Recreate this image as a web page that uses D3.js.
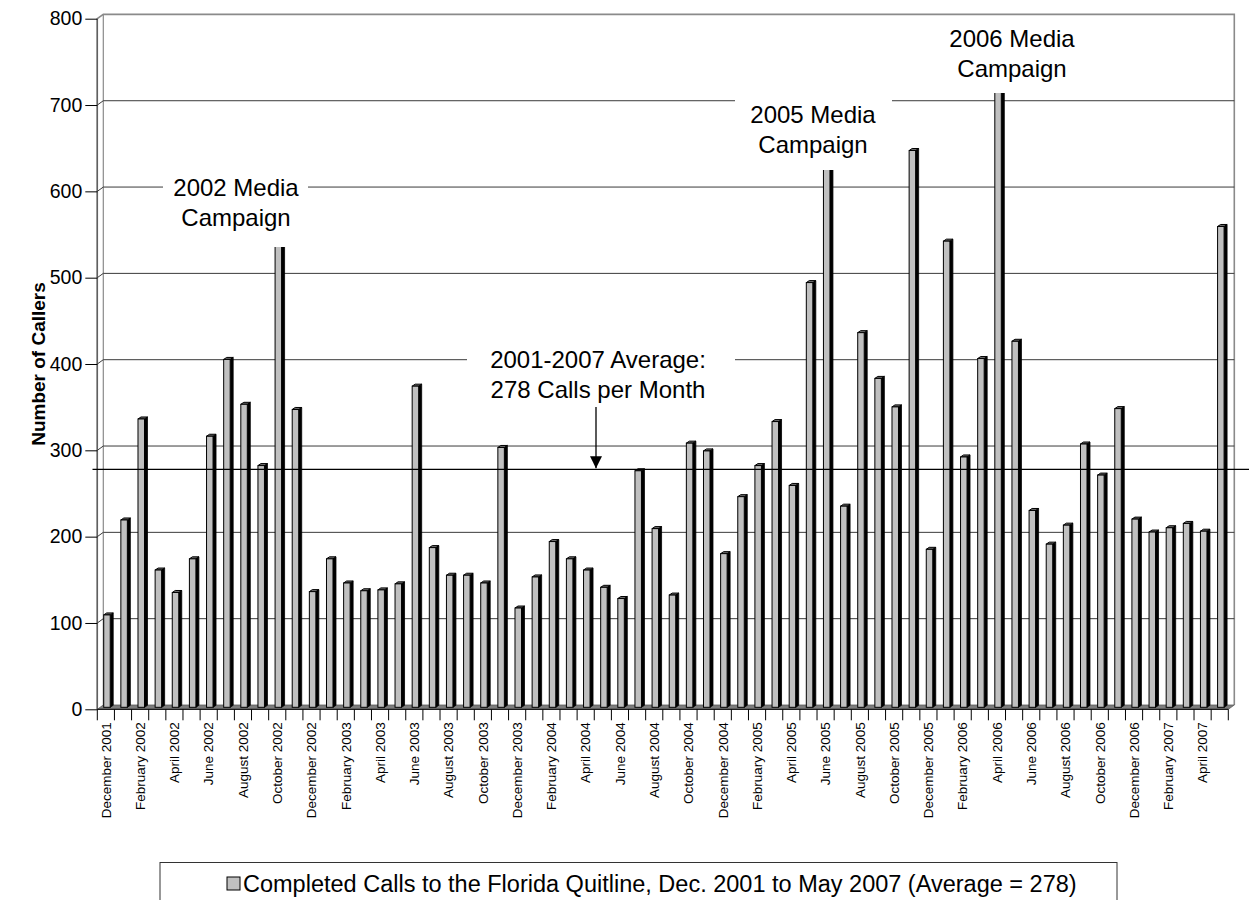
<!DOCTYPE html>
<html>
<head>
<meta charset="utf-8">
<script src="https://cdn.jsdelivr.net/npm/d3@7"></script>
<style>
  body { margin: 0; background: #ffffff; }
  text { font-family: Arial, "Liberation Sans", sans-serif; fill: #000; }
</style>
</head>
<body>
<svg id="chart" width="1249" height="900"></svg>
<script>
// Monthly completed calls to the Florida Quitline, Dec 2001 – May 2007
const months = [
  "December 2001","January 2002","February 2002","March 2002","April 2002","May 2002",
  "June 2002","July 2002","August 2002","September 2002","October 2002","November 2002",
  "December 2002","January 2003","February 2003","March 2003","April 2003","May 2003",
  "June 2003","July 2003","August 2003","September 2003","October 2003","November 2003",
  "December 2003","January 2004","February 2004","March 2004","April 2004","May 2004",
  "June 2004","July 2004","August 2004","September 2004","October 2004","November 2004",
  "December 2004","January 2005","February 2005","March 2005","April 2005","May 2005",
  "June 2005","July 2005","August 2005","September 2005","October 2005","November 2005",
  "December 2005","January 2006","February 2006","March 2006","April 2006","May 2006",
  "June 2006","July 2006","August 2006","September 2006","October 2006","November 2006",
  "December 2006","January 2007","February 2007","March 2007","April 2007","May 2007"
];
const calls = [
  107, 217, 334, 159, 133, 172, 314, 403, 351, 280, 605, 345,
  134, 172, 144, 135, 136, 143, 372, 185, 153, 153, 144, 301,
  115, 151, 192, 172, 159, 139, 126, 274, 207, 130, 306, 297,
  178, 244, 280, 331, 257, 492, 700, 233, 434, 381, 348, 645,
  183, 540, 290, 404, 785, 424, 228, 189, 211, 305, 269, 346,
  218, 203, 208, 213, 204, 557
];
const yTicks = [0, 100, 200, 300, 400, 500, 600, 700, 800];
const average = 278;
const yTitle = "Number of Callers";
const legendLabel = "Completed Calls to the Florida Quitline, Dec. 2001 to May 2007 (Average = 278)";
const campaignNotes = [
  ["2002 Media", "Campaign"],
  ["2005 Media", "Campaign"],
  ["2006 Media", "Campaign"]
];
const averageNote = ["2001-2007 Average:", "278 Calls per Month"];

const FONT = "Arial, 'Liberation Sans', sans-serif";
const svg = d3.select("#chart");

// front plane of the 3-D box and the depth offsets
const X0 = 97.3, X1 = 1228.3;
const WX = 6, WY = -4.3;          // back wall offset
const BX = 1.1, BY = -2;          // bar plane offset
const DX = 3, DY = -2;            // bar depth
const FW = 6.5;                   // bar face width

const x = d3.scaleBand().domain(months).range([X0, X1]).padding(0);
const y = d3.scaleLinear().domain([0, 800]).range([709.3, 18.7]);
const step = x.step();

// walls
const wallCol = "#8a8a8a";
const walls = svg.append("g").attr("fill", "none");
walls.append("path")
  .attr("d", `M${X0},${y(0)}V${y(800)}L${X0 + WX},${y(800) + WY}H${X1 + WX}V${y(0) + WY}`)
  .attr("stroke", wallCol).attr("stroke-width", 1.6);
walls.append("line")
  .attr("x1", X0 + WX).attr("x2", X0 + WX)
  .attr("y1", y(800) + WY).attr("y2", y(0) + WY)
  .attr("stroke", wallCol).attr("stroke-width", 1.2);
walls.append("line")
  .attr("x1", X0).attr("x2", X0)
  .attr("y1", y(800)).attr("y2", y(0))
  .attr("stroke", "#606060").attr("stroke-width", 1.4);

// gridlines on side and back walls
svg.append("g").selectAll("path")
  .data(yTicks.filter(v => v > 0 && v < 800))
  .join("path")
  .attr("d", v => `M${X0},${y(v)}L${X0 + WX},${y(v) + WY}H${X1 + WX}`)
  .attr("fill", "none").attr("stroke", "#3a3a3a").attr("stroke-width", 1);

// floor
svg.append("path")
  .attr("d", `M${X0},${y(0)}H${X1}L${X1 + WX},${y(0) + WY}H${X0 + WX}Z`)
  .attr("fill", "#7d7d7d").attr("stroke", "#5a5a5a").attr("stroke-width", 0.8);

// bars
const bars = svg.append("g").selectAll("g")
  .data(months.map((m, i) => ({ m, v: calls[i] })))
  .join("g");
const faceL = d => x(d.m) + step / 2 + BX - FW / 2;
const faceR = d => faceL(d) + FW;
const faceTop = d => y(d.v) + BY;
const faceBot = y(0) + BY;
bars.append("path") // side face
  .attr("d", d => `M${faceR(d)},${faceTop(d)}L${faceR(d) + DX},${faceTop(d) + DY}V${faceBot + DY}L${faceR(d)},${faceBot}Z`)
  .attr("fill", "#000").attr("stroke", "#000").attr("stroke-width", 0.8);
bars.append("path") // top face
  .attr("d", d => `M${faceL(d)},${faceTop(d)}L${faceL(d) + DX},${faceTop(d) + DY}H${faceR(d) + DX}L${faceR(d)},${faceTop(d)}Z`)
  .attr("fill", "#6e6e6e").attr("stroke", "#000").attr("stroke-width", 1);
bars.append("rect") // front face
  .attr("x", faceL).attr("y", faceTop)
  .attr("width", FW).attr("height", d => faceBot - faceTop(d))
  .attr("fill", "#c0c0c0").attr("stroke", "#000").attr("stroke-width", 1);

// front edge of floor
svg.append("line")
  .attr("x1", X0).attr("x2", X1).attr("y1", y(0)).attr("y2", y(0))
  .attr("stroke", "#000").attr("stroke-width", 1);

// category ticks at month boundaries
svg.append("g").selectAll("line")
  .data(months.map(m => x(m)).concat([X1]))
  .join("line")
  .attr("x1", d => d).attr("x2", d => d)
  .attr("y1", y(0)).attr("y2", y(0) + 11)
  .attr("stroke", "#000").attr("stroke-width", 1);

// month labels, every other month
svg.append("g").selectAll("text")
  .data(months.filter((m, i) => i % 2 === 0))
  .join("text")
  .attr("transform", m => `translate(${x(m) + step / 2},${y(0) + 13}) rotate(-90)`)
  .attr("text-anchor", "end")
  .attr("dy", "0.35em")
  .attr("font-family", FONT)
  .attr("font-size", 13.5)
  .text(m => m);

// value axis
const yAxis = svg.append("g")
  .attr("transform", `translate(${X0},0)`)
  .call(d3.axisLeft(y).tickValues(yTicks).tickSize(12).tickPadding(3).tickFormat(d3.format("d")))
  .attr("font-size", 19.5)
  .attr("font-family", FONT);
yAxis.select(".domain").remove();
yAxis.selectAll(".tick line").attr("stroke", "#000");
yAxis.selectAll(".tick text").attr("font-size", 19.5).attr("fill", "#000");

svg.append("text")
  .attr("transform", `translate(38,${(y(0) + y(800)) / 2}) rotate(-90)`)
  .attr("text-anchor", "middle")
  .attr("dy", "0.35em")
  .attr("font-family", FONT)
  .attr("font-size", 19).attr("font-weight", "bold")
  .text(yTitle);

// average line
svg.append("line")
  .attr("x1", 92.5).attr("x2", 1249)
  .attr("y1", y(average)).attr("y2", y(average))
  .attr("stroke", "#000").attr("stroke-width", 1.3);

// annotations with white backing boxes
function note(lines, cx, cy, box) {
  svg.append("rect")
    .attr("x", box[0]).attr("y", box[1])
    .attr("width", box[2] - box[0]).attr("height", box[3] - box[1])
    .attr("fill", "#fff");
  svg.append("text")
    .attr("text-anchor", "middle")
    .attr("font-family", FONT)
    .attr("font-size", 24)
    .selectAll("tspan").data(lines).join("tspan")
    .attr("x", cx).attr("y", (d, i) => cy + i * 30)
    .attr("dy", "0.35em")
    .text(d => d);
}
note(campaignNotes[0], 236, 188, [163, 168, 308, 247]);
note(campaignNotes[1], 813, 115, [735, 96, 892, 170]);
note(campaignNotes[2], 1012, 39, [940, 17, 1082, 93]);
note(averageNote, 598, 360, [467, 340, 735, 404]);

// arrow pointing to the average line
svg.append("defs").append("marker")
  .attr("id", "head").attr("viewBox", "0 0 10 10")
  .attr("refX", 10).attr("refY", 5)
  .attr("markerWidth", 12).attr("markerHeight", 12)
  .attr("markerUnits", "userSpaceOnUse")
  .attr("orient", "auto")
  .append("path").attr("d", "M0,0L10,5L0,10Z").attr("fill", "#000");
svg.append("line")
  .attr("x1", 596).attr("x2", 596)
  .attr("y1", 407).attr("y2", y(average) - 1)
  .attr("stroke", "#000").attr("stroke-width", 1.3)
  .attr("marker-end", "url(#head)");

// legend
const lg = svg.append("g");
lg.append("rect")
  .attr("x", 160).attr("y", 862.5).attr("width", 957).attr("height", 60)
  .attr("fill", "#fff").attr("stroke", "#333").attr("stroke-width", 1);
lg.append("rect")
  .attr("x", 227).attr("y", 877).attr("width", 13).attr("height", 13)
  .attr("fill", "#c0c0c0").attr("stroke", "#000").attr("stroke-width", 1);
lg.append("text")
  .attr("x", 243).attr("y", 884).attr("dy", "0.35em")
  .attr("font-family", FONT)
  .attr("font-size", 23.5)
  .text(legendLabel);
</script>
</body>
</html>
